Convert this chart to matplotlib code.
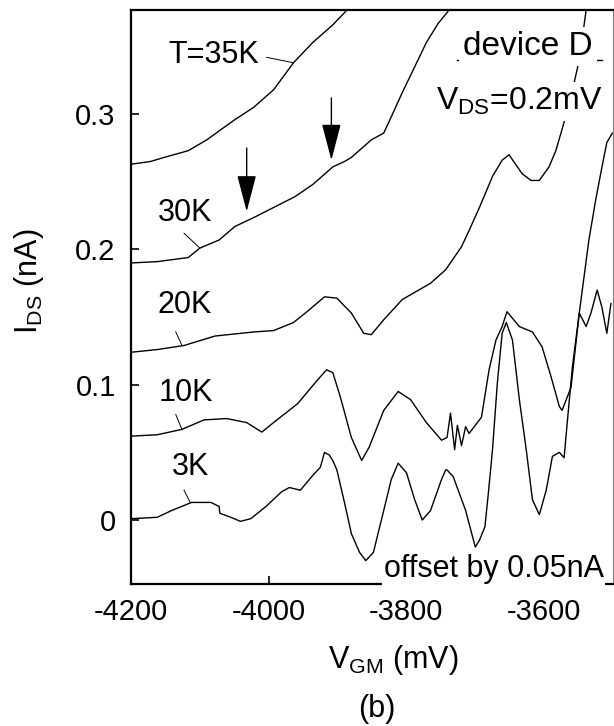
import matplotlib
matplotlib.use('Agg')
import matplotlib.pyplot as plt

plt.rcParams['font.family'] = ['Liberation Sans', 'DejaVu Sans']
plt.rcParams['mathtext.default'] = 'regular'
plt.rcParams['axes.unicode_minus'] = False

# gate voltage (mV) / drain current (nA), curves already offset
x35 = [-4200, -4172, -4152, -4117, -4090, -4071, -4049, -4022, -3993, -3964, -3936, -3907, -3890, -3880]
y35 = [0.263, 0.265, 0.268, 0.273, 0.281, 0.288, 0.296, 0.305, 0.318, 0.338, 0.353, 0.366, 0.375, 0.381]

x30 = [-4200, -4162, -4117, -4100, -4072, -4049, -4020, -3993, -3962, -3936, -3907, -3890, -3880,
       -3851, -3833, -3822, -3806, -3788, -3771, -3754, -3738, -3730]
y30 = [0.190, 0.191, 0.194, 0.201, 0.207, 0.217, 0.224, 0.231, 0.239, 0.248, 0.261, 0.265, 0.268,
       0.281, 0.286, 0.298, 0.316, 0.335, 0.353, 0.367, 0.377, 0.382]

x20 = [-4200, -4162, -4123, -4078, -4022, -3993, -3964, -3942, -3919, -3901, -3880, -3862, -3851,
       -3833, -3806, -3765, -3743, -3720, -3709, -3694, -3675, -3661, -3651, -3632, -3619, -3607,
       -3593, -3583, -3575, -3570, -3561, -3549, -3539, -3535]
y20 = [0.124, 0.126, 0.129, 0.136, 0.139, 0.140, 0.146, 0.155, 0.165, 0.164, 0.153, 0.138, 0.137,
       0.148, 0.163, 0.175, 0.185, 0.202, 0.214, 0.231, 0.254, 0.266, 0.270, 0.256, 0.251, 0.251,
       0.261, 0.273, 0.287, 0.296, 0.313, 0.340, 0.377, 0.384]

x10 = [-4200, -4162, -4126, -4094, -4061, -4032, -4010, -3993, -3958, -3930, -3916, -3907, -3896,
       -3880, -3865, -3854, -3833, -3812, -3794, -3771, -3749, -3741, -3736, -3730, -3726, -3720,
       -3714, -3709, -3700, -3691, -3680, -3670, -3661, -3654, -3636, -3617, -3603, -3590, -3578,
       -3574, -3561, -3549, -3542, -3535, -3525, -3516, -3509, -3501]
y10 = [0.062, 0.063, 0.067, 0.074, 0.075, 0.072, 0.065, 0.072, 0.086, 0.103, 0.111, 0.109, 0.091,
       0.061, 0.044, 0.054, 0.081, 0.095, 0.089, 0.072, 0.059, 0.061, 0.079, 0.052, 0.070, 0.055,
       0.069, 0.064, 0.070, 0.076, 0.111, 0.133, 0.143, 0.154, 0.143, 0.139, 0.128, 0.106, 0.084,
       0.081, 0.098, 0.153, 0.180, 0.207, 0.237, 0.261, 0.279, 0.286]

x3 = [-4200, -4162, -4141, -4112, -4084, -4072, -4071, -4055, -4041, -4026, -4004, -3981, -3970,
      -3954, -3936, -3925, -3919, -3912, -3907, -3901, -3890, -3880, -3868, -3859, -3848, -3833,
      -3822, -3812, -3800, -3788, -3777, -3765, -3749, -3743, -3741, -3732, -3714, -3700, -3694,
      -3686, -3681, -3675, -3668, -3661, -3655, -3646, -3636, -3626, -3617, -3607, -3597, -3588,
      -3578, -3571, -3567, -3559, -3549, -3539, -3532, -3523, -3516, -3509, -3503]
y3 = [0.001, 0.002, 0.007, 0.013, 0.013, 0.010, 0.005, 0.002, -0.001, 0.001, 0.010, 0.021, 0.024,
      0.022, 0.033, 0.039, 0.050, 0.048, 0.044, 0.037, 0.013, -0.010, -0.024, -0.030, -0.024, 0.007,
      0.030, 0.042, 0.035, 0.015, 0.000, 0.007, 0.030, 0.037, 0.037, 0.032, 0.007, -0.020, -0.015,
      -0.005, 0.020, 0.052, 0.101, 0.138, 0.146, 0.133, 0.089, 0.052, 0.015, 0.004, 0.022, 0.047,
      0.050, 0.046, 0.069, 0.113, 0.153, 0.143, 0.153, 0.170, 0.157, 0.138, 0.160]

# temperature labels: text position and leader line (start, end)
labels = ['T=35K', '30K', '20K', '10K', '3K']
label_xy = [(-4080, 0.344), (-4122, 0.227), (-4122, 0.159), (-4120, 0.094), (-4114, 0.039)]
leader_from = [(-4003, 0.342), (-4123, 0.212), (-4135, 0.139), (-4135, 0.078), (-4123, 0.022)]
leader_to = [(-3964, 0.338), (-4100, 0.201), (-4126, 0.129), (-4126, 0.067), (-4114, 0.013)]

# arrows on the 30K curve: x, tail y, tip y
arrow_x = [-4032, -3909]
arrow_tail = [0.275, 0.312]
arrow_tip = [0.228, 0.266]

xticks = [-4200, -4000, -3800, -3600]
yticks = [0, 0.1, 0.2, 0.3]

fig = plt.figure(figsize=(6.14, 7.26), dpi=100)
ax = fig.add_axes([131 / 614, 142 / 726, 482 / 614, 574 / 726])

for xs, ys in [(x35, y35), (x30, y30), (x20, y20), (x10, y10), (x3, y3)]:
    ax.plot(xs, ys, color='black', lw=1.0)

for lab, (tx, ty), p0, p1 in zip(labels, label_xy, leader_from, leader_to):
    ax.text(tx, ty, lab, fontsize=22, ha='center', va='center')
    ax.plot([p0[0], p1[0]], [p0[1], p1[1]], color='black', lw=0.7)

for ax_x, t0, t1 in zip(arrow_x, arrow_tail, arrow_tip):
    ax.annotate('', xy=(ax_x, t1), xytext=(ax_x, t0),
                arrowprops=dict(arrowstyle='-|>,head_length=1.15,head_width=0.3',
                                mutation_scale=20, lw=1.0, color='black',
                                shrinkA=0, shrinkB=0))

ax.text(0.824, 0.922, 'device D', transform=ax.transAxes, fontsize=24,
        ha='center', va='baseline',
        bbox=dict(facecolor='white', edgecolor='none', pad=3))
ax.plot([0.676, 0.977], [0.913, 0.913], transform=ax.transAxes, color='black', lw=1.0)
ax.text(0.805, 0.826, r'V$_{DS}$=0.2mV', transform=ax.transAxes, fontsize=23,
        ha='center', va='baseline',
        bbox=dict(facecolor='white', edgecolor='none', pad=3))
ax.text(0.753, 0.012, 'offset by 0.05nA', transform=ax.transAxes, fontsize=22,
        ha='center', va='baseline',
        bbox=dict(facecolor='white', edgecolor='none', pad=1))

ax.set_xlim(-4200, -3500)
ax.set_ylim(-0.0473, 0.377)
ax.set_xticks(xticks)
ax.set_xticklabels([str(v) for v in xticks])
ax.set_yticks(yticks)
ax.set_yticklabels(['0', '0.1', '0.2', '0.3'])
ax.tick_params(direction='in', length=6, width=1.2, labelsize=21)
ax.tick_params(axis='y', pad=11)
ax.tick_params(axis='x', pad=10)
for side in ['left', 'bottom', 'top']:
    ax.spines[side].set_linewidth(1.6)
ax.spines['right'].set_linewidth(0.8)
ax.spines['right'].set_color('0.5')

fig.text(393 / 614, 1 - 668 / 726, r'V$_{GM}$ (mV)', fontsize=22, ha='center', va='baseline')
fig.text(377 / 614, 1 - 717 / 726, '(b)', fontsize=22, ha='center', va='baseline')
fig.text(29 / 614, 1 - 281 / 726, r'I$_{DS}$ (nA)', fontsize=22, rotation=90,
         ha='center', va='center')

fig.savefig('out.png', dpi=100)
